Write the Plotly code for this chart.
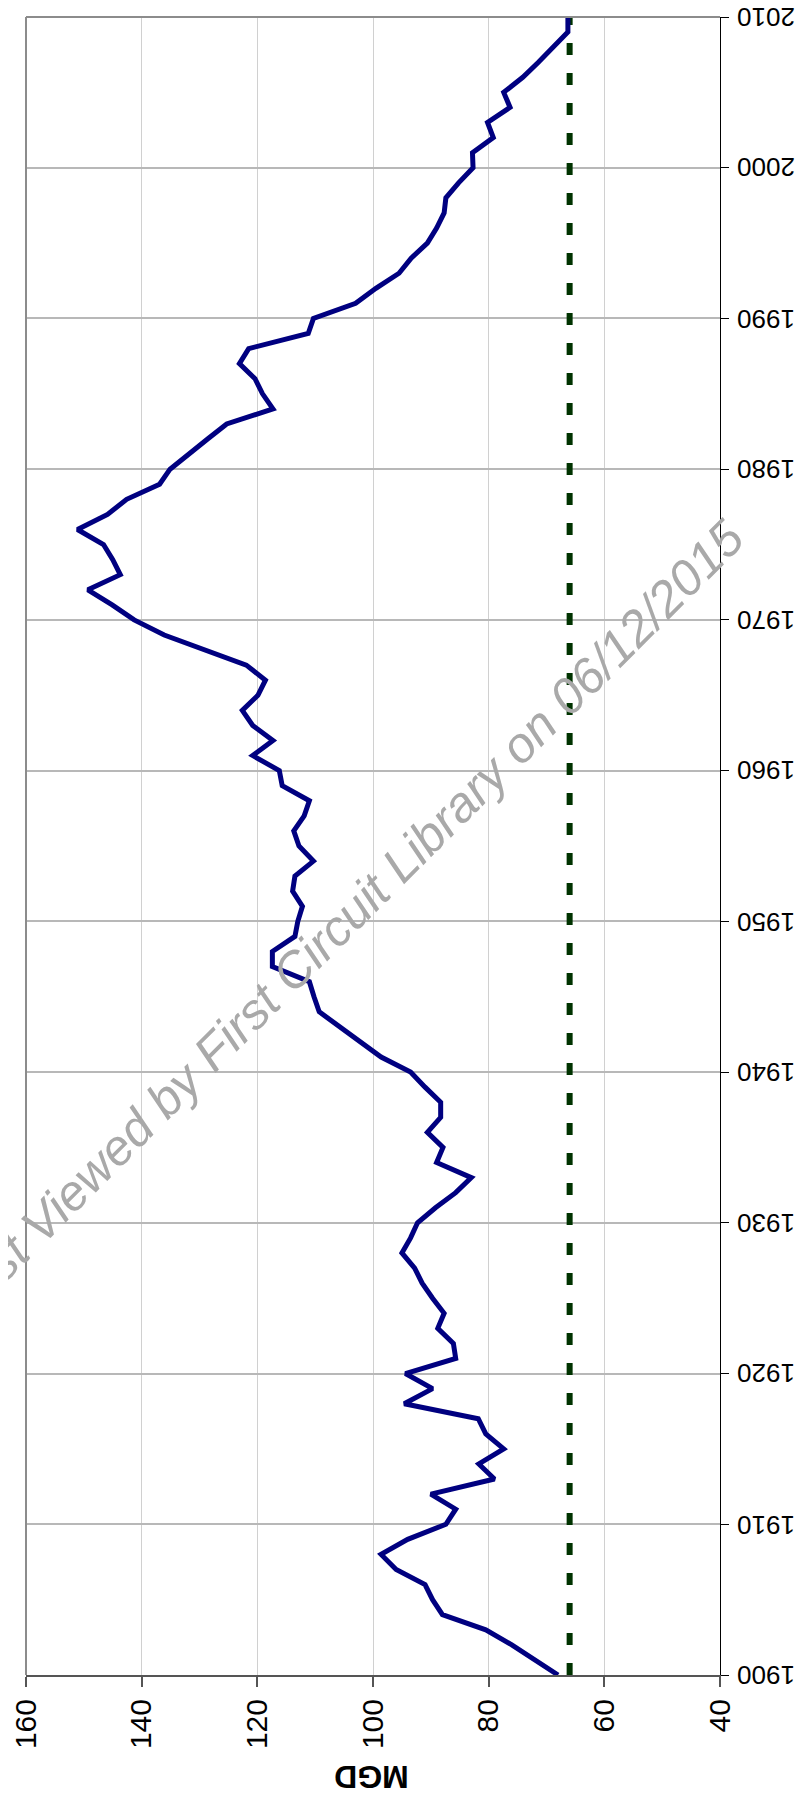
"""Annual water demand (MGD), drawn in the rotated orientation of the scanned exhibit."""

import plotly.graph_objects as go

# --- data -----------------------------------------------------------------
years = list(range(1900, 2011))

mgd = [
    68.0, 72.0, 76.0, 80.5, 88.0, 89.7, 91.0, 96.0, 98.6, 94.0,        # 1900s
    87.4, 85.7, 90.0, 79.0, 81.7, 77.4, 80.5, 81.8, 94.6, 89.7,        # 1910s
    94.4, 85.7, 86.1, 88.8, 87.7, 89.7, 91.5, 92.8, 95.0, 93.5,        # 1920s
    92.3, 89.2, 85.7, 83.0, 89.0, 87.9, 90.6, 88.3, 88.3, 91.0,        # 1930s
    93.5, 98.6, 102.1, 105.7, 109.3, 110.2, 111.0, 117.4, 117.4, 113.5,  # 1940s
    113.0, 112.2, 113.9, 113.5, 110.3, 112.8, 113.7, 111.9, 111.0, 115.7,  # 1950s
    116.2, 120.8, 117.3, 120.8, 122.6, 119.9, 118.6, 121.9, 128.8, 136.1,  # 1960s
    141.3, 145.1, 149.3, 143.7, 145.0, 146.6, 151.1, 145.9, 142.6, 136.9,  # 1970s
    135.1, 132.0, 128.6, 125.3, 117.3, 119.1, 120.4, 123.1, 121.5, 111.2,  # 1980s
    110.3, 103.0, 99.5, 95.5, 93.4, 90.6, 89.0, 87.7, 87.4, 85.2,        # 1990s
    82.7, 82.8, 79.2, 80.2, 76.3, 77.4, 74.1, 71.4, 68.8, 66.3,        # 2000s
    66.3,                                                               # 2010
]

safe_yield = [66.0, 66.0]
safe_yield_years = [1900, 2010]

mgd_ticks = [160, 140, 120, 100, 80, 60, 40]
year_ticks = [1900, 1910, 1920, 1930, 1940, 1950, 1960, 1970, 1980, 1990, 2000, 2010]

watermark = "First Viewed by First Circuit Library on 06/12/2015"

FONT = "Liberation Sans, Arial, sans-serif"

fig = go.Figure()

fig.add_trace(go.Scatter(
    x=safe_yield, y=safe_yield_years, mode="lines",
    line=dict(color="#003300", width=6, dash="12px,18px"),
    hoverinfo="skip",
))
fig.add_trace(go.Scatter(
    x=mgd, y=years, mode="lines",
    line=dict(color="#000080", width=5),
))

# plot frame: left and top borders are grey, right/bottom come from the axes
fig.add_shape(type="line", xref="paper", yref="paper", x0=0, x1=0, y0=0, y1=1,
              line=dict(color="#8c8c8c", width=2))
fig.add_shape(type="line", xref="paper", yref="paper", x0=0, x1=1, y0=1, y1=1,
              line=dict(color="#8c8c8c", width=2))

# year labels are printed upside down next to the right axis
for yr in year_ticks:
    fig.add_annotation(
        text=str(yr), xref="paper", yref="y", x=1, y=yr, xshift=15,
        xanchor="left", yanchor="middle", showarrow=False, textangle=180,
        font=dict(size=26, color="black", family=FONT),
    )

fig.add_annotation(
    text="<b>MGD</b>", xref="paper", yref="paper", x=0.497, y=-0.0735,
    showarrow=False, textangle=180, font=dict(size=32, color="black", family=FONT),
)
fig.add_annotation(
    text=watermark, xref="paper", yref="paper", x=0.457, y=0.455,
    showarrow=False, textangle=-45,
    font=dict(size=50, color="#a9a9a9", family=FONT, style="italic"),
)

# the page body adds an 8px offset, so the figure is 8px smaller on each side
fig.update_layout(
    width=799, height=1807,
    margin=dict(l=18, r=87, t=9, b=140, autoexpand=False),
    paper_bgcolor="white", plot_bgcolor="white",
    showlegend=False,
    font=dict(family=FONT, color="black"),
)
fig.update_xaxes(
    range=[160, 40], tickvals=mgd_ticks, ticktext=[str(v) for v in mgd_ticks],
    tickangle=-90, tickfont=dict(size=30), automargin=False,
    showgrid=True, gridcolor="#d0d0d0", gridwidth=1,
    showline=True, linecolor="#555555", linewidth=2,
    ticks="outside", ticklen=10, tickcolor="#555555", tickwidth=2,
    zeroline=False,
)
fig.update_yaxes(
    range=[1900, 2010], tickvals=year_ticks, showticklabels=False,
    side="right", automargin=False,
    showgrid=True, gridcolor="#b8b8b8", gridwidth=1.5,
    showline=True, linecolor="black", linewidth=1,
    ticks="outside", ticklen=8, tickcolor="black",
    zeroline=False,
)

fig.write_html("out.html")
